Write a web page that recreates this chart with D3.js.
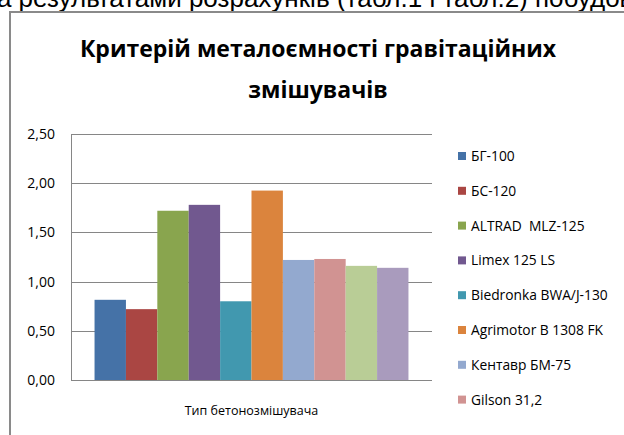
<!DOCTYPE html>
<html>
<head>
<meta charset="utf-8">
<script src="https://cdn.jsdelivr.net/npm/d3@7"></script>
<style>
  html, body { margin: 0; padding: 0; background: #fff; overflow: hidden; }
  #main { width: 624px; height: 435px; overflow: hidden; }
  .axisLabel { font-family: "Open Sans", sans-serif; font-size: 14px; fill: #000; }
  .legendLabel { font-family: "Open Sans", sans-serif; font-size: 13.8px; fill: #000; white-space: pre; }
  .title { font-family: "Open Sans", sans-serif; font-size: 23px; font-weight: bold; fill: #000; }
</style>
</head>
<body>
<div id="main"></div>
<script>
// values
const category = "Тип бетонозмішувача";
const seriesNames = ["БГ-100", "БС-120", "ALTRAD  MLZ-125", "Limex 125 LS", "Biedronka BWA/J-130",
  "Agrimotor B 1308 FK", "Кентавр БМ-75", "Gilson 31,2", "Ряд 9", "Ряд 10"];
const seriesValues = [0.815, 0.72, 1.72, 1.78, 0.80, 1.925, 1.22, 1.23, 1.16, 1.14];
const seriesColors = ["#4572A7", "#AA4643", "#89A54E", "#71588F", "#4198AF",
  "#DB843D", "#93A9CF", "#D19392", "#B9CD96", "#A99BBD"];
const yTicks = [0, 0.5, 1, 1.5, 2, 2.5];
const titleLines = ["Критерій металоємності гравітаційних", "змішувачів"];

const width = 624;
const height = 435;

const plot = { left: 71, right: 432, top: 134, bottom: 380 };

const svg = d3.select("#main").append("svg").attr("width", width).attr("height", height);

// piece of the document text above the chart (cut off at the top)
svg.append("text").attr("x", -15).attr("y", 7)
  .attr("font-family", "Liberation Sans, Arial, sans-serif").attr("font-size", 26)
  .text("за результатами розрахунків (табл.1 і табл.2) побудовано");

// chart frame, runs past the picture on right and bottom
svg.append("rect").attr("x", 10).attr("y", 12).attr("width", 700).attr("height", 500)
  .attr("fill", "#fff").attr("stroke", "#8a8a8a").attr("stroke-width", 2);

// title
svg.selectAll(".title").data(titleLines).enter().append("text")
  .attr("class", "title")
  .attr("x", 318)
  .attr("y", (d, i) => 57 + i * 41)
  .attr("text-anchor", "middle")
  .text(d => d);

const y = d3.scaleLinear().domain([0, 2.5]).range([plot.bottom, plot.top]);

const x0 = d3.scaleBand().domain([category]).range([plot.left, plot.right]).paddingOuter(0.075);
const x1 = d3.scaleBand().domain(seriesNames).range([0, x0.bandwidth()]);

// gridlines
svg.append("g").selectAll("line").data(yTicks).enter().append("line")
  .attr("x1", plot.left).attr("x2", plot.right)
  .attr("y1", d => Math.round(y(d)) + 0.5).attr("y2", d => Math.round(y(d)) + 0.5)
  .attr("stroke", "#868686").attr("stroke-width", 1);

// y axis labels
const yAxis = d3.axisLeft(y).tickValues(yTicks).tickSize(0).tickPadding(16)
  .tickFormat(d => d.toFixed(2).replace(".", ","));
const gy = svg.append("g").attr("transform", `translate(${plot.left},0)`).call(yAxis);
gy.select(".domain").attr("stroke", "#868686");
gy.selectAll("text").attr("class", "axisLabel").attr("font-family", null).attr("font-size", null);

// bars
const bars = svg.append("g").attr("transform", `translate(${x0(category)},0)`);
bars.selectAll("rect").data(seriesValues).enter().append("rect")
  .attr("x", (d, i) => x1(seriesNames[i]))
  .attr("y", d => y(d))
  .attr("width", x1.bandwidth())
  .attr("height", d => y(0) - y(d))
  .attr("fill", (d, i) => seriesColors[i]);

// x axis line + category label
svg.append("line").attr("x1", plot.left).attr("x2", plot.right)
  .attr("y1", Math.round(y(0)) + 0.5).attr("y2", Math.round(y(0)) + 0.5)
  .attr("stroke", "#868686");
svg.append("text").attr("class", "axisLabel").style("font-size", "12.5px")
  .attr("x", x0(category) + x0.bandwidth() / 2).attr("y", 415)
  .attr("text-anchor", "middle").text(category);

// legend - like Excel, entries that do not fit in the chart box are dropped
const legendTop = 156;
const legendStep = 34.8;
const legendNames = seriesNames.filter((d, i) => legendTop + i * legendStep < 420);
const legend = svg.append("g").attr("transform", `translate(458,${legendTop})`);
const item = legend.selectAll("g").data(legendNames).enter().append("g")
  .attr("transform", (d, i) => `translate(0,${i * legendStep})`);
item.append("rect").attr("x", 0).attr("y", -4).attr("width", 8).attr("height", 8)
  .attr("fill", (d, i) => seriesColors[i]);
item.append("text").attr("class", "legendLabel").attr("x", 13).attr("y", 5).text(d => d);
</script>
</body>
</html>
